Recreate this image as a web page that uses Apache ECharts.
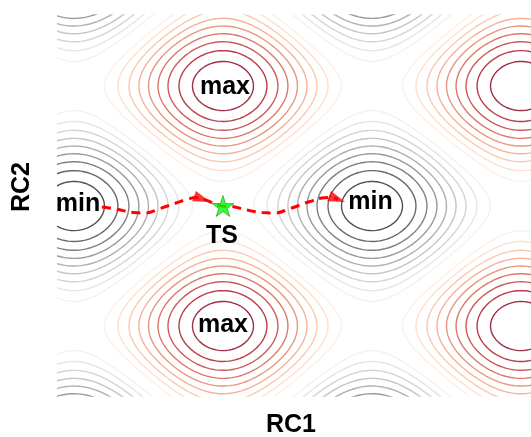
<!DOCTYPE html>
<html><head><meta charset="utf-8">
<script src="https://cdn.jsdelivr.net/npm/echarts@6/dist/echarts.min.js"></script>
<style>html,body{margin:0;padding:0;background:#fff}#c{width:531px;height:437px}</style>
</head><body><div id="c"></div>
<script>
// ---- data ----
const xRange = [-1.107, 2.067];
const yRange = [-1.583, 1.592];
const contourLevels = [-1.8,-1.6,-1.4,-1.2,-1.0,-0.8,-0.6,-0.4,-0.2,0.2,0.4,0.6,0.8,1.0,1.2,1.4,1.6,1.8];
const extremaLabels = ['max','max','min','min'];
const extremaX = [0, 0, -1, 1];
const extremaY = [1, -1, 0, 0];
const tsX = [0];
const tsY = [0];
const tsLabels = ['TS'];
const pathX = [-0.812,-0.718,-0.604,-0.517,-0.423,-0.315,-0.235,-0.181,-0.121,-0.007,0.060,0.161,0.262,0.349,0.450,0.584,0.664,0.725,0.772];
const pathY = [-0.008,-0.025,-0.054,-0.058,-0.021,0.025,0.058,0.071,0.054,0.000,-0.004,-0.033,-0.054,-0.058,-0.021,0.038,0.067,0.071,0.055];
const arrowX = [-0.140, 0.766];
const arrowY = [0.058, 0.058];

// model energy surface (two reaction coordinates)
function energy(x, y) { return Math.cos(Math.PI * x) - Math.cos(Math.PI * y); }

// RdGy_r colour map
const cmap = ['#1a1a1a','#4d4d4d','#878787','#bababa','#e0e0e0','#ffffff','#fddbc7','#f4a582','#d6604d','#b2182b','#67001f'];
function hex2rgb(h){return [parseInt(h.slice(1,3),16),parseInt(h.slice(3,5),16),parseInt(h.slice(5,7),16)];}
function colorAt(t){
  t = Math.max(0, Math.min(1, t));
  const p = t * (cmap.length - 1); const k = Math.min(cmap.length - 2, Math.floor(p)); const f = p - k;
  const a = hex2rgb(cmap[k]), b = hex2rgb(cmap[k+1]);
  return 'rgba(' + a.map((v,i)=>Math.round(v + (b[i]-v)*f)).join(',') + ',0.85)';
}

// marching squares
function contour(level){
  const nx = 300, ny = 260;
  const x0 = xRange[0]-0.03, x1 = xRange[1]+0.03, y0 = yRange[0]-0.03, y1 = yRange[1]+0.03;
  const dx = (x1-x0)/nx, dy = (y1-y0)/ny, W = nx+1;
  const V = new Float64Array((nx+1)*(ny+1));
  for (let j=0;j<=ny;j++) for (let i=0;i<=nx;i++) V[j*W+i] = energy(x0+i*dx, y0+j*dy) - level;
  const pts = {};
  function hKey(i,j){ const k=(j*W+i)*2; if(!pts[k]){const a=V[j*W+i],b=V[j*W+i+1];const t=a/(a-b);pts[k]=[x0+(i+t)*dx,y0+j*dy];} return k; }
  function vKey(i,j){ const k=(j*W+i)*2+1; if(!pts[k]){const a=V[j*W+i],b=V[(j+1)*W+i];const t=a/(a-b);pts[k]=[x0+i*dx,y0+(j+t)*dy];} return k; }
  const segs = [];
  for (let j=0;j<ny;j++) for (let i=0;i<nx;i++){
    const a=V[j*W+i], b=V[j*W+i+1], c=V[(j+1)*W+i+1], d=V[(j+1)*W+i];
    const sa=a>0, sb=b>0, sc=c>0, sd=d>0;
    const e = [];
    if (sa!==sb) e.push(['B', hKey(i,j)]);
    if (sb!==sc) e.push(['R', vKey(i+1,j)]);
    if (sc!==sd) e.push(['T', hKey(i,j+1)]);
    if (sd!==sa) e.push(['L', vKey(i,j)]);
    if (e.length===2) segs.push([e[0][1], e[1][1]]);
    else if (e.length===4){
      const m = (a+b+c+d)/4 > 0;
      const B=e[0][1], R=e[1][1], T=e[2][1], L=e[3][1];
      if (m===sa){ segs.push([B,R]); segs.push([T,L]); }
      else { segs.push([L,B]); segs.push([R,T]); }
    }
  }
  const adj = new Map();
  segs.forEach((s,idx)=>{ for (const k of s){ if(!adj.has(k)) adj.set(k,[]); adj.get(k).push(idx);} });
  const used = new Uint8Array(segs.length);
  const lines = [];
  for (let s=0;s<segs.length;s++){
    if (used[s]) continue; used[s]=1;
    const chain = [segs[s][0], segs[s][1]];
    let cur = segs[s][1];
    while (true){
      const nb = (adj.get(cur)||[]).find(q=>!used[q]); if (nb===undefined) break;
      used[nb]=1; const nxt = segs[nb][0]===cur ? segs[nb][1] : segs[nb][0]; chain.push(nxt); cur = nxt;
    }
    cur = segs[s][0];
    while (true){
      const nb = (adj.get(cur)||[]).find(q=>!used[q]); if (nb===undefined) break;
      used[nb]=1; const nxt = segs[nb][0]===cur ? segs[nb][1] : segs[nb][0]; chain.unshift(nxt); cur = nxt;
    }
    lines.push(chain.map(k=>pts[k]));
  }
  return lines;
}

const series = [];
contourLevels.forEach(lv=>{
  const col = colorAt((lv + 2) / 4);
  contour(lv).forEach(poly=>{
    series.push({type:'line', data: poly, symbol:'none', showSymbol:false, silent:true, animation:false,
      clip:true, lineStyle:{color: col, width: 1.4}, z: 1});
  });
});

const labelFont = {fontFamily:'"Liberation Sans", Arial, sans-serif', fontWeight:'bold', fontSize:25,
  color:'#000000', textBorderWidth:0, opacity:1};
const labelOffsets = [[2,1],[0,-1],[4,-2],[-1.5,-4]];

series.push({
  type:'line', name:'path', data: pathX.map((x,i)=>[x, pathY[i]]), smooth:0.4, symbol:'none', showSymbol:false,
  lineStyle:{color:'#ff0000', width:3, type:[9,6]}, z:5, animation:false, silent:true
});
series.push({
  type:'scatter', name:'arrows', data: arrowX.map((x,i)=>[x, arrowY[i]]), symbol:'triangle', symbolSize:[11,17],
  symbolRotate:-110, itemStyle:{color:'#ff0000'}, z:6, animation:false, silent:true
});
series.push({
  type:'scatter', name:'extrema', z:7, animation:false, silent:true, symbolSize:0.01,
  itemStyle:{color:'#000000'},
  data: extremaX.map((x,i)=>({value:[x, extremaY[i]], label:{offset: labelOffsets[i]}})),
  label:Object.assign({show:true, position:'inside', formatter:(p)=>extremaLabels[p.dataIndex]}, labelFont)
});
series.push({
  type:'scatter', name:'TS', z:8, animation:false, silent:true,
  symbol:'path://M50 0 L61.2 34.6 L97.6 34.5 L68.1 55.9 L79.4 90.5 L50 69 L20.6 90.5 L31.9 55.9 L2.4 34.5 L38.8 34.6 Z',
  symbolSize:[22,21], itemStyle:{color:'#00ff00', borderColor:'#2a8a2a', borderWidth:0.8},
  data: tsX.map((x,i)=>[x, tsY[i]]),
  label:Object.assign({show:true, position:'inside', offset:[-1,30], formatter:(p)=>tsLabels[p.dataIndex]}, labelFont)
});

const chart = echarts.init(document.getElementById('c'), null, {renderer:'canvas'});
chart.setOption({
  backgroundColor:'#ffffff',
  animation:false,
  grid:{left:58, right:0, top:15, bottom:41, containLabel:false},
  xAxis:{type:'value', min:xRange[0], max:xRange[1], show:true, axisLine:{show:false}, axisTick:{show:false}, axisLabel:{show:false}, splitLine:{show:false}},
  yAxis:{type:'value', min:yRange[0], max:yRange[1], show:true, axisLine:{show:false}, axisTick:{show:false}, axisLabel:{show:false}, splitLine:{show:false}},
  graphic:[
    {type:'text', x:291, y:425, style:{text:'RC1', font:'bold 25px "Liberation Sans", Arial, sans-serif', fill:'#000', align:'center', verticalAlign:'middle'}},
    {type:'text', x:22, y:187, rotation:Math.PI/2, style:{text:'RC2', font:'bold 25px "Liberation Sans", Arial, sans-serif', fill:'#000', align:'center', verticalAlign:'middle'}}
  ],
  series: series
});
</script></body></html>
